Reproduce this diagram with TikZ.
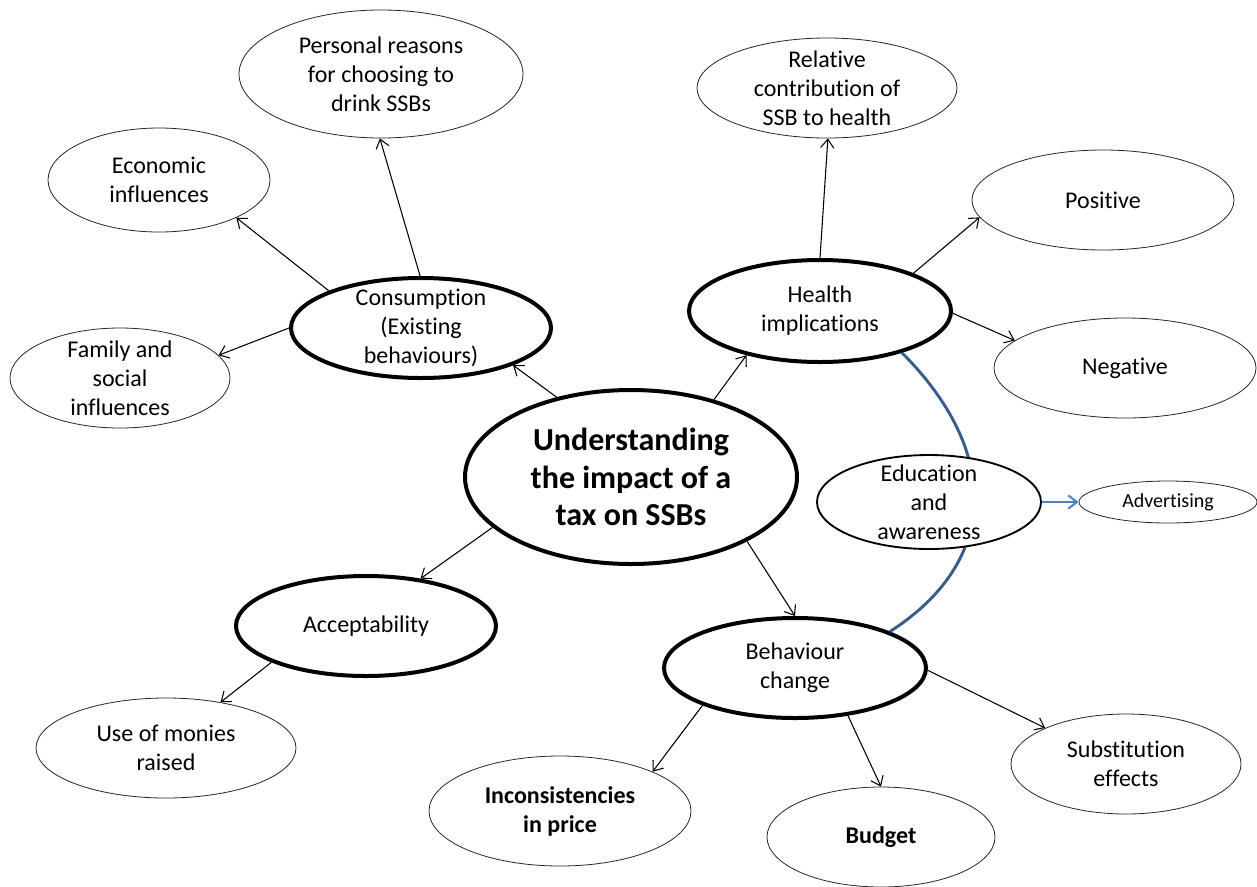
\documentclass[tikz,border=0pt]{standalone}
\usepackage{fontspec}
\setmainfont{Carlito}[Ligatures={NoCommon}]
\usetikzlibrary{shapes.geometric,arrows.meta}
\definecolor{blueline}{RGB}{56,93,138}
\definecolor{bluearrow}{RGB}{79,129,189}
\begin{document}
\begin{tikzpicture}[x=0.75pt,y=-0.75pt,
  ell/.style 2 args={ellipse, draw, fill=white, inner sep=0pt, minimum width=#1*1.5pt, minimum height=#2*1.5pt},
  thinell/.style={line width=0.6pt, draw=black!85},
  thickell/.style={line width=3pt},
  txt/.style={align=center, font=\fontsize{18}{21.75}\selectfont, inner sep=0pt},
  bigtxt/.style={align=center, font=\fontsize{24}{28}\selectfont\bfseries, inner sep=0pt},
  smalltxt/.style={align=center, font=\fontsize{15}{18}\selectfont, inner sep=0pt},
  arr/.style={-{Straight Barb[length=6.5pt,width=10pt]}, line width=0.8pt},
  bluearr/.style={-{Straight Barb[length=6.5pt,width=10pt]}, line width=1.5pt, draw=bluearrow},
]
\useasboundingbox (0,0) rectangle (1257,886);

% nodes
\node[ell={142}{64}, thinell] (pers) at (381,74) {};
\node[ell={111}{52}, thinell] (econ) at (159,180) {};
\node[ell={110}{50}, thinell] (fam) at (120,378) {};
\node[ell={130}{50}, thickell] (cons) at (421,328) {};
\node[ell={166}{87}, thickell] (cen) at (631,477) {};
\node[ell={130}{50}, thinell] (rel) at (827,88) {};
\node[ell={131}{50}, thinell] (pos) at (1103,200) {};
\node[ell={131}{51}, thickell] (health) at (820,311) {};
\node[ell={131}{50}, thinell] (neg) at (1125,368) {};
\node[ell={89}{21}, thinell] (adv) at (1168,502) {};
\node[ell={130}{50}, thickell] (acc) at (366,626) {};
\node[ell={130}{50}, thinell] (use) at (166,748) {};
\node[ell={131}{50}, thickell] (beh) at (795,668) {};
\node[ell={131}{55}, thinell] (inc) at (560,811) {};
\node[ell={114}{50}, thinell] (bud) at (881,837) {};
\node[ell={115}{50}, thinell] (sub) at (1126,764) {};

% blue link behind education node
\draw[blueline, line width=2.2pt] (health.333.4) .. controls +(98,98) and +(111,-71) .. (beh.21.5);
\node[ell={112}{47}, line width=1.4pt] (edu) at (929,502) {};

% texts
\node[txt] (pers-t) at (pers) {Personal reasons\\for choosing to\\drink SSBs};
\node[txt] (econ-t) at (econ) {Economic\\influences};
\node[txt] (fam-t) at (fam) {Family and\\social\\influences};
\node[txt] (cons-t) at (cons) {Consumption\\(Existing\\behaviours)};
\node[bigtxt] (cen-t) at (cen) {Understanding\\the impact of a\\tax on SSBs};
\node[txt] (rel-t) at (rel) {Relative\\contribution of\\SSB to health};
\node[txt] (pos-t) at (pos) {Positive};
\node[txt] (health-t) at (health) {Health\\implications};
\node[txt] (neg-t) at (neg) {Negative};
\node[txt] (edu-t) at (edu) {Education\\and\\awareness};
\node[smalltxt] (adv-t) at (adv) {Advertising};
\node[txt] (acc-t) at (acc) {Acceptability};
\node[txt] (use-t) at (use) {Use of monies\\raised};
\node[txt] (beh-t) at (beh) {Behaviour\\change};
\node[txt, font=\fontsize{18}{21.75}\selectfont\bfseries] (inc-t) at (inc) {Inconsistencies\\in price};
\node[txt, font=\fontsize{18}{21.75}\selectfont\bfseries] (bud-t) at (bud) {Budget};
\node[txt] (sub-t) at (sub) {Substitution\\effects};

% connectors
\draw[arr] (cen.133.9) -- (cons.338);
\draw[arr] (cons.91) -- (pers.269);
\draw[arr] (cons.158) -- (econ.334);
\draw[arr] (cons.180) -- (fam.13.8);
\draw[arr] (cen.43.2) -- (health.211.1);
\draw[arr] (health.90) -- (rel.271);
\draw[arr] (health.22.2) -- (pos.188.6);
\draw[arr] (health.359) -- (neg.166.3);
\draw[arr] (cen.200.1) -- (acc.41.7);
\draw[arr] (acc.201.3) -- (use.40.6);
\draw[arr] (cen.331.5) -- (beh.90);
\draw[arr] (beh.202.2) -- (inc.23.6);
\draw[arr] (beh.318.7) -- (bud.90);
\draw[arr] (beh.359) -- (sub.156.3);
\draw[bluearr] (edu.east) -- (adv.west);
\end{tikzpicture}
\end{document}
